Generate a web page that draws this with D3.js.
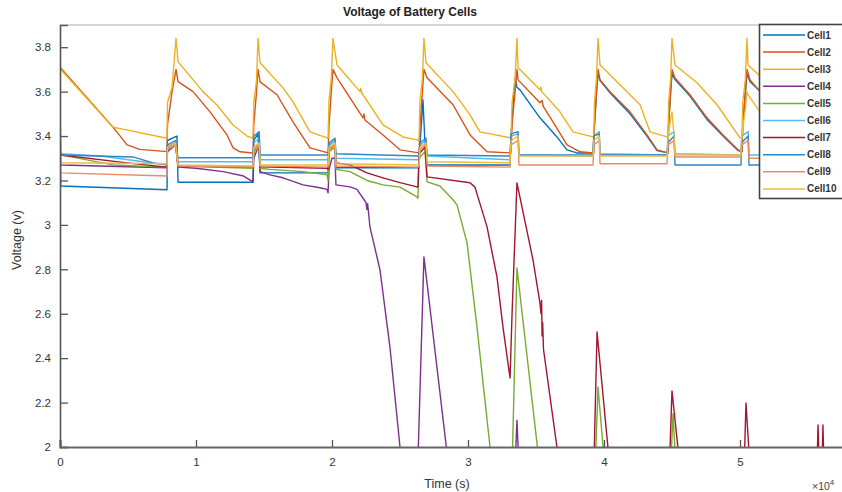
<!DOCTYPE html>
<html><head><meta charset="utf-8">
<script src="https://cdn.jsdelivr.net/npm/d3@7/dist/d3.min.js"></script>
<style>body{margin:0;background:#fff;}svg{display:block;font-family:"Liberation Sans",Arial,sans-serif;}</style>
</head><body><svg id="c" width="842" height="492"></svg>
<script>
// time in units of 10^4 s, voltage in V
const cellNames = ["Cell1","Cell2","Cell3","Cell4","Cell5","Cell6","Cell7","Cell8","Cell9","Cell10"];
const cellColors = ["#0072BD","#D95319","#EDB120","#7E2F8E","#77AC30","#4DBEEE","#A2142F","#2E86C8","#E98B63","#F0BA3A"];
const timeTicks = [0,1,2,3,4,5];
const voltTicks = [2,2.2,2.4,2.6,2.8,3,3.2,3.4,3.6,3.8];

const cell1 = [[0,3.50],[0.005,3.175],[0.787,3.158],[0.790,3.38],[0.846,3.396],[0.860,3.40],[0.868,3.192],[1.419,3.192],
 [1.425,3.38],[1.456,3.41],[1.471,3.234],[1.971,3.234],[1.978,3.36],[2.022,3.38],[2.029,3.257],[2.640,3.257],
 [2.647,3.36],[2.669,3.563],[2.684,3.36],[2.699,3.27],[3.309,3.27],[3.316,3.40],[3.346,3.662],[3.360,3.62],[3.382,3.608],
 [3.529,3.482],[3.654,3.396],[3.728,3.338],[3.800,3.324],[3.919,3.324],[3.930,3.45],[3.945,3.60],[3.956,3.68],[3.971,3.65],
 [4.044,3.595],[4.191,3.50],[4.316,3.40],[4.390,3.335],[4.470,3.324],[4.475,3.45],[4.490,3.60],[4.500,3.68],[4.522,3.655],
 [4.632,3.58],[4.757,3.475],[4.875,3.40],[4.985,3.335],[5.015,3.33],[5.020,3.45],[5.040,3.60],[5.051,3.68],[5.074,3.645],
 [5.221,3.56],[5.40,3.44],[5.574,3.33],[5.60,3.68],[5.75,3.55]];
const cell2 = [[0,3.71],[0.390,3.44],[0.493,3.36],[0.588,3.34],[0.787,3.33],[0.790,3.45],[0.824,3.60],[0.853,3.70],[0.868,3.645],
 [0.978,3.60],[1.103,3.509],[1.228,3.405],[1.272,3.347],[1.324,3.329],[1.419,3.324],[1.425,3.45],[1.445,3.60],[1.456,3.70],[1.471,3.644],
 [1.596,3.586],[1.713,3.464],[1.838,3.347],[1.971,3.324],[1.978,3.45],[1.995,3.60],[2.007,3.70],[2.037,3.662],
 [2.228,3.482],[2.235,3.50],[2.242,3.472],[2.375,3.405],[2.500,3.338],[2.640,3.324],[2.647,3.45],[2.665,3.60],[2.676,3.70],[2.699,3.662],
 [2.890,3.541],[3.015,3.405],[3.140,3.329],[3.316,3.324],[3.324,3.45],[3.346,3.60],[3.360,3.70],[3.368,3.653],
 [3.529,3.55],[3.545,3.56],[3.552,3.535],[3.625,3.464],[3.728,3.36],[3.824,3.329],[3.925,3.324],[3.930,3.45],[3.945,3.60],[3.956,3.70],[3.971,3.653],
 [4.044,3.60],[4.191,3.509],[4.316,3.405],[4.390,3.338],[4.470,3.324],[4.475,3.45],[4.490,3.60],[4.500,3.70],[4.522,3.662],
 [4.632,3.586],[4.757,3.482],[4.875,3.405],[4.985,3.338],[5.015,3.33],[5.020,3.45],[5.040,3.60],[5.051,3.70],[5.074,3.653],
 [5.147,3.60],[5.221,3.577],[5.40,3.45],[5.574,3.33],[5.60,3.70],[5.61,3.65],[5.75,3.57]];
const cell3 = [[0,3.75],[0.005,3.70],[0.390,3.44],[0.787,3.39],[0.790,3.55],[0.824,3.62],[0.853,3.84],[0.868,3.735],
 [1.051,3.60],[1.154,3.54],[1.272,3.45],[1.375,3.40],[1.419,3.39],[1.425,3.55],[1.445,3.65],[1.456,3.84],[1.471,3.73],
 [1.640,3.617],[1.713,3.554],[1.838,3.419],[1.963,3.392],[1.971,3.39],[1.978,3.56],[1.995,3.66],[2.007,3.84],[2.037,3.72],
 [2.206,3.60],[2.212,3.615],[2.218,3.595],[2.375,3.45],[2.522,3.396],[2.625,3.383],[2.640,3.38],[2.647,3.56],[2.665,3.66],[2.676,3.84],[2.691,3.73],
 [2.890,3.60],[3.015,3.495],[3.088,3.419],[3.309,3.392],[3.316,3.39],[3.324,3.55],[3.346,3.66],[3.360,3.84],[3.368,3.707],
 [3.529,3.608],[3.536,3.62],[3.542,3.60],[3.676,3.509],[3.772,3.419],[3.919,3.396],[3.925,3.39],[3.930,3.55],[3.945,3.66],[3.956,3.84],[3.971,3.72],
 [4.140,3.617],[4.265,3.541],[4.338,3.419],[4.463,3.396],[4.470,3.39],[4.475,3.55],[4.490,3.66],[4.500,3.84],[4.522,3.72],
 [4.684,3.64],[4.831,3.541],[5.000,3.392],[5.015,3.39],[5.020,3.55],[5.040,3.66],[5.051,3.84],[5.059,3.72],
 [5.221,3.63],[5.40,3.52],[5.55,3.40],[5.574,3.39],[5.58,3.55],[5.60,3.84],[5.61,3.72],[5.75,3.64]];
const cell4 = [[0,3.62],[0.005,3.27],[0.787,3.257],[0.790,3.33],[0.850,3.36],[0.868,3.26],[1.0,3.255],[1.2,3.24],[1.35,3.22],[1.419,3.194],
 [1.425,3.30],[1.450,3.34],[1.465,3.35],[1.471,3.24],[1.544,3.225],[1.640,3.212],[1.787,3.18],[1.912,3.167],[1.963,3.16],[1.971,3.144],
 [1.978,3.25],[2.000,3.30],[2.022,3.30],[2.029,3.18],[2.132,3.171],[2.184,3.16],[2.228,3.12],[2.250,3.10],[2.256,3.07],[2.262,3.095],
 [2.279,2.991],[2.353,2.797],[2.426,2.45],[2.500,2.0],[2.52,1.9],[2.63,1.9],[2.676,2.856],[2.86,1.9],[3.345,1.9],[3.360,2.12],[3.375,1.9],[5.75,1.9]];
const cell5 = [[0,3.56],[0.005,3.315],[0.390,3.27],[0.787,3.26],[0.790,3.34],[0.850,3.36],[0.868,3.265],[1.419,3.255],
 [1.425,3.33],[1.465,3.35],[1.471,3.255],[1.544,3.25],[1.787,3.24],[1.963,3.225],[1.971,3.20],[1.978,3.33],[2.022,3.35],[2.029,3.25],
 [2.132,3.24],[2.257,3.20],[2.375,3.18],[2.500,3.17],[2.625,3.126],[2.632,3.12],[2.640,3.30],[2.684,3.33],[2.699,3.194],
 [2.794,3.175],[2.890,3.113],[2.919,3.09],[2.993,2.919],[3.066,2.541],[3.162,2.0],[3.18,1.9],[3.324,1.9],[3.360,2.806],[3.529,1.9],
 [3.935,1.9],[3.956,2.27],[4.007,1.9],[4.49,1.9],[4.507,2.15],[4.53,1.9],[5.75,1.9]];
const cell6 = [[0,3.33],[0.005,3.32],[0.30,3.31],[0.610,3.284],[0.787,3.27],[0.790,3.35],[0.850,3.37],[0.868,3.284],[1.419,3.284],
 [1.425,3.37],[1.465,3.39],[1.471,3.293],[1.971,3.293],[1.978,3.36],[2.022,3.38],[2.029,3.30],[2.640,3.293],
 [2.647,3.36],[2.691,3.38],[2.699,3.31],[3.309,3.293],[3.316,3.40],[3.368,3.41],[3.375,3.315],[3.919,3.31],
 [3.925,3.40],[3.965,3.42],[3.971,3.32],[4.463,3.315],[4.470,3.40],[4.515,3.42],[4.522,3.32],[5.007,3.315],
 [5.012,3.40],[5.060,3.42],[5.066,3.315],[5.574,3.315],[5.58,3.40],[5.61,3.42],[5.615,3.315],[5.75,3.315]];
const cell7 = [[0,3.33],[0.005,3.315],[0.493,3.279],[0.787,3.26],[0.790,3.35],[0.850,3.37],[0.868,3.265],[1.419,3.26],
 [1.425,3.34],[1.465,3.36],[1.471,3.261],[1.963,3.255],[1.971,3.25],[1.978,3.34],[2.022,3.36],[2.029,3.279],
 [2.132,3.27],[2.257,3.234],[2.375,3.212],[2.500,3.19],[2.625,3.171],[2.632,3.17],[2.640,3.32],[2.684,3.35],[2.699,3.216],
 [3.015,3.19],[3.051,3.17],[3.140,2.991],[3.213,2.766],[3.257,2.541],[3.309,2.311],[3.324,2.6],[3.360,3.189],[3.478,2.842],
 [3.529,2.649],[3.537,2.60],[3.541,2.66],[3.545,2.50],[3.549,2.56],[3.555,2.44],[3.654,2.0],[3.67,1.9],
 [3.925,1.9],[3.949,2.518],[4.044,1.9],[4.48,1.9],[4.500,2.252],[4.56,1.9],[5.03,1.9],[5.044,2.198],[5.074,1.9],
 [5.565,1.9],[5.574,2.099],[5.583,1.9],[5.602,1.9],[5.610,2.099],[5.618,1.9],[5.75,1.9]];
const cell8 = [[0,3.34],[0.005,3.315],[0.537,3.306],[0.684,3.279],[0.787,3.27],[0.790,3.36],[0.850,3.38],[0.868,3.302],[1.419,3.302],
 [1.425,3.40],[1.465,3.42],[1.471,3.315],[1.971,3.315],[1.978,3.37],[2.022,3.39],[2.029,3.32],[2.640,3.31],
 [2.647,3.37],[2.691,3.39],[2.699,3.315],[3.309,3.31],[3.316,3.41],[3.368,3.42],[3.375,3.315],[3.919,3.315],
 [3.925,3.40],[3.965,3.41],[3.971,3.315],[4.463,3.315],[4.470,3.37],[4.515,3.40],[4.522,3.27],[5.007,3.27],
 [5.012,3.37],[5.060,3.40],[5.066,3.27],[5.574,3.27],[5.58,3.37],[5.61,3.40],[5.615,3.27],[5.75,3.27]];
const cell9 = [[0,3.25],[0.005,3.234],[0.787,3.22],[0.790,3.34],[0.850,3.36],[0.868,3.265],[1.419,3.26],
 [1.425,3.34],[1.465,3.36],[1.471,3.265],[1.971,3.26],[1.978,3.34],[2.022,3.36],[2.029,3.265],[2.640,3.26],
 [2.647,3.34],[2.691,3.36],[2.699,3.265],[3.309,3.26],[3.316,3.36],[3.368,3.38],[3.375,3.27],[3.919,3.27],
 [3.925,3.36],[3.965,3.38],[3.971,3.275],[4.463,3.275],[4.470,3.36],[4.515,3.38],[4.522,3.306],[5.007,3.306],
 [5.012,3.36],[5.060,3.38],[5.066,3.30],[5.574,3.30],[5.75,3.30]];
const cell10 = [[0,3.30],[0.005,3.28],[0.787,3.275],[0.790,3.35],[0.850,3.37],[0.868,3.27],[1.419,3.265],
 [1.425,3.35],[1.465,3.37],[1.471,3.27],[1.971,3.27],[1.978,3.35],[2.022,3.37],[2.029,3.275],[2.640,3.27],
 [2.647,3.35],[2.691,3.37],[2.699,3.284],[3.309,3.28],[3.316,3.38],[3.368,3.40],[3.375,3.31],[3.919,3.31],
 [3.925,3.38],[3.965,3.40],[3.971,3.31],[4.463,3.31],[4.470,3.40],[4.500,3.509],[4.515,3.40],[4.522,3.315],[5.007,3.315],
 [5.012,3.40],[5.040,3.52],[5.051,3.60],[5.059,3.586],[5.147,3.509],[5.221,3.482],[5.40,3.36],[5.574,3.33],[5.60,3.60],[5.75,3.50]];
const cellData = [cell1,cell2,cell3,cell4,cell5,cell6,cell7,cell8,cell9,cell10];

const svg = d3.select("#c");
const L = 60, R = 848.8, T = 25, B = 447;
const x = d3.scaleLinear().domain([0, 5.8]).range([L, R]);
const y = d3.scaleLinear().domain([2, 3.9]).range([B, T]);

svg.append("defs").append("clipPath").attr("id","clip")
  .append("rect").attr("x",L).attr("y",T).attr("width",R-L).attr("height",B-T);

// top border
svg.append("line").attr("x1",L).attr("x2",R).attr("y1",T).attr("y2",T)
  .attr("stroke","#c8c8c8").attr("stroke-width",1.5);

const line = d3.line().x(d=>x(d[0])).y(d=>y(d[1]));
const g = svg.append("g").attr("clip-path","url(#clip)");
cellData.forEach((d,i)=>{
  g.append("path").datum(d).attr("d",line).attr("fill","none")
   .attr("stroke",cellColors[i]).attr("stroke-width",1.4).attr("stroke-linejoin","round");
});

// axes
const yAxis = d3.axisLeft(y).tickValues(voltTicks).tickSize(-8).tickPadding(9).tickFormat(d3.format("~g"));
const yg = svg.append("g").attr("transform",`translate(${L},0)`).call(yAxis);
yg.select(".domain").attr("stroke","#555").attr("stroke-width",1.6);
yg.selectAll(".tick line").attr("stroke","#555").attr("stroke-width",1.3);
yg.selectAll("text").attr("font-size",11.5).attr("fill","#333").attr("font-family","'Liberation Sans',Arial");

const xAxis = d3.axisBottom(x).tickValues(timeTicks).tickSize(-7).tickPadding(11).tickFormat(d3.format("d"));
const xg = svg.append("g").attr("transform",`translate(0,${B})`).call(xAxis);
xg.select(".domain").attr("stroke","#666").attr("stroke-width",2.2);
xg.selectAll(".tick line").attr("stroke","#555").attr("stroke-width",1.3);
xg.selectAll("text").attr("font-size",11.5).attr("fill","#333").attr("font-family","'Liberation Sans',Arial");

// title and labels
svg.append("text").attr("x",410).attr("y",16).attr("text-anchor","middle")
  .attr("font-size",12).attr("font-weight","bold").attr("fill","#222").text("Voltage of Battery Cells");
svg.append("text").attr("x",447).attr("y",488).attr("text-anchor","middle")
  .attr("font-size",12.5).attr("fill","#333").text("Time (s)");
svg.append("text").attr("transform","translate(21,240) rotate(-90)").attr("text-anchor","middle")
  .attr("font-size",12.5).attr("fill","#333").text("Voltage (v)");
const ex = svg.append("text").attr("x",812).attr("y",490).attr("font-size",10.5).attr("fill","#444");
ex.append("tspan").text("×10");
ex.append("tspan").attr("dy",-5).attr("font-size",8).text("4");

// legend
const lg = svg.append("g");
lg.append("rect").attr("x",759.5).attr("y",24.5).attr("width",100).attr("height",174)
  .attr("fill","#fff").attr("stroke","#444").attr("stroke-width",1.6);
cellNames.forEach((n,i)=>{
  const yy = 35 + i*17.1;
  lg.append("line").attr("x1",763).attr("x2",805).attr("y1",yy).attr("y2",yy)
    .attr("stroke",cellColors[i]).attr("stroke-width",1.5);
  lg.append("text").attr("x",807).attr("y",yy+3.5).attr("font-size",10).attr("font-weight","bold")
    .attr("fill","#333").text(n);
});
</script></body></html>
